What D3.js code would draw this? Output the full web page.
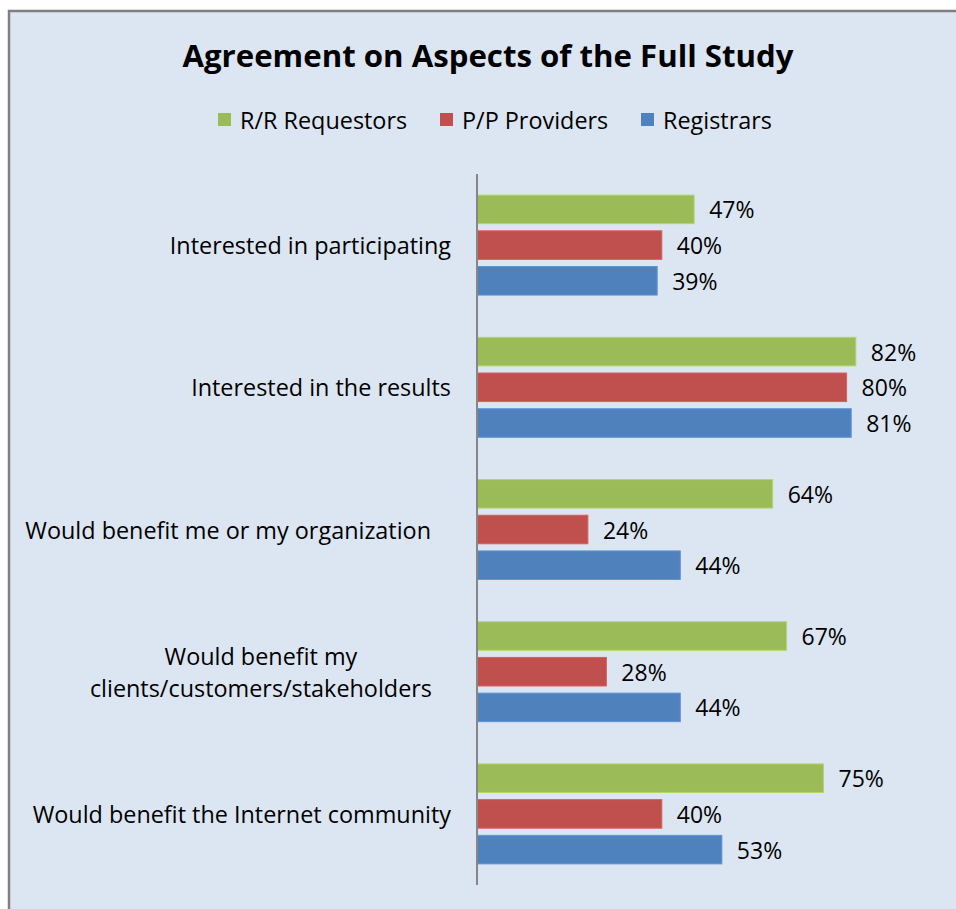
<!DOCTYPE html>
<html>
<head>
<meta charset="utf-8">
<script src="https://cdn.jsdelivr.net/npm/d3@7"></script>
<style>
  html, body { margin: 0; padding: 0; background: #ffffff; }
  svg { display: block; }
  text { font-family: "Open Sans", Lato, sans-serif; fill: #000; }
</style>
</head>
<body>
<svg id="chart" width="956" height="909"></svg>
<script>
// ---- data ----
const title = "Agreement on Aspects of the Full Study";
const categories = [
  "Interested in participating",
  "Interested in the results",
  "Would benefit me or my organization",
  "Would benefit my\nclients/customers/stakeholders",
  "Would benefit the Internet community"
];
const seriesNames = ["R/R Requestors", "P/P Providers", "Registrars"];
const rrRequestors = [47, 82, 64, 67, 75];
const ppProviders  = [40, 80, 24, 28, 40];
const registrars   = [39, 81, 44, 44, 53];
const seriesValues = [rrRequestors, ppProviders, registrars];
const seriesColors = ["#9bbb59", "#c0504d", "#4f81bd"];

// ---- layout ----
const W = 956, H = 909;
const svg = d3.select("#chart");
const axisX = 477, plotTop = 174, plotBottom = 885;
const labelFont = 23.4;
const valueFont = 23;

svg.append("rect").attr("x", 9).attr("y", 11).attr("width", W).attr("height", H)
  .attr("fill", "#dce6f2").attr("stroke", "#808080").attr("stroke-width", 2.5);

svg.append("text").attr("x", 488).attr("y", 55)
  .attr("text-anchor", "middle").attr("dominant-baseline", "central")
  .attr("font-weight", "bold").attr("font-size", 31.2).text(title);

// legend
const legendX = [218, 440, 641];
seriesNames.forEach((name, i) => {
  const g = svg.append("g").attr("transform", `translate(${legendX[i]},120)`);
  g.append("rect").attr("x", 0).attr("y", -7).attr("width", 13).attr("height", 13)
    .attr("fill", seriesColors[i]);
  g.append("text").attr("x", 22).attr("y", 0).attr("dominant-baseline", "central")
    .attr("font-size", labelFont).text(name);
});

// scales
const y0 = d3.scaleBand().domain(categories).range([plotTop, plotBottom])
  .paddingInner(0.297).paddingOuter(0.1485);
const y1 = d3.scaleBand().domain(seriesNames).range([0, y0.bandwidth()])
  .paddingInner(0.2).paddingOuter(0);
const x = d3.scaleLinear().domain([0, 100]).range([axisX, axisX + 462]);

// bars
categories.forEach((cat, ci) => {
  seriesNames.forEach((s, si) => {
    const v = seriesValues[si][ci];
    const yy = y0(cat) + y1(s);
    svg.append("rect")
      .attr("x", x(0)).attr("y", yy)
      .attr("width", x(v) - x(0)).attr("height", y1.bandwidth())
      .attr("fill", seriesColors[si])
      .attr("stroke", d3.color(seriesColors[si]).brighter(0.4)).attr("stroke-width", 1);
    svg.append("text")
      .attr("x", x(v) + 15).attr("y", yy + y1.bandwidth() / 2)
      .attr("dominant-baseline", "central").attr("font-size", valueFont)
      .text(v + "%");
  });
});

// category labels (Excel-like: right-aligned block, wrapped lines centered)
const labelRight = [451, 451, 431, 432, 451];
categories.forEach((cat, ci) => {
  const lines = cat.split("\n");
  const cy = y0(cat) + y0.bandwidth() / 2;
  const lh = 32;
  const t = svg.append("text").attr("font-size", labelFont);
  lines.forEach((ln, li) => {
    t.append("tspan").attr("y", cy + (li - (lines.length - 1) / 2) * lh)
      .attr("dominant-baseline", "central").text(ln);
  });
  const spans = t.selectAll("tspan").nodes();
  const widths = spans.map(n => n.getComputedTextLength());
  const maxW = d3.max(widths);
  const center = labelRight[ci] - maxW / 2;
  spans.forEach(n => {
    d3.select(n).attr("x", center).attr("text-anchor", "middle");
  });
});

// axis line
svg.append("line").attr("x1", axisX).attr("x2", axisX)
  .attr("y1", plotTop).attr("y2", plotBottom)
  .attr("stroke", "#868686").attr("stroke-width", 2);
</script>
</body>
</html>
